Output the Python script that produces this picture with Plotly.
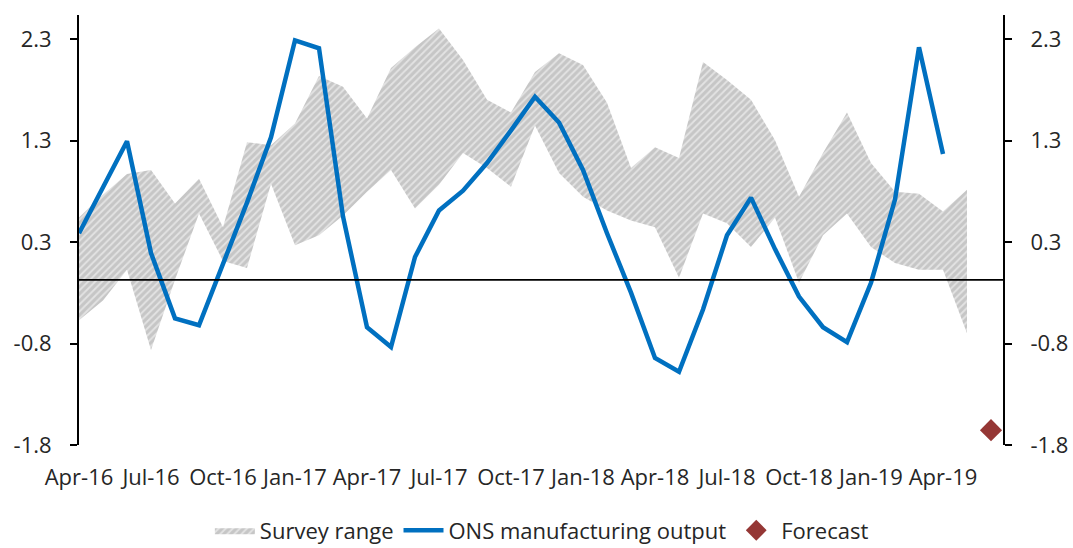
import plotly.graph_objects as go

# ---- data -------------------------------------------------------------
MONTHS = ["Apr-16", "May-16", "Jun-16", "Jul-16", "Aug-16", "Sep-16", "Oct-16", "Nov-16", "Dec-16",
          "Jan-17", "Feb-17", "Mar-17", "Apr-17", "May-17", "Jun-17", "Jul-17", "Aug-17", "Sep-17",
          "Oct-17", "Nov-17", "Dec-17", "Jan-18", "Feb-18", "Mar-18", "Apr-18", "May-18", "Jun-18",
          "Jul-18", "Aug-18", "Sep-18", "Oct-18", "Nov-18", "Dec-18", "Jan-19", "Feb-19", "Mar-19",
          "Apr-19", "May-19", "Jun-19"]

SURVEY_UPPER = [0.50, 0.73, 0.94, 0.98, 0.64, 0.89, 0.40, 1.26, 1.23, 1.45, 1.93, 1.82, 1.50,
                2.01, 2.22, 2.41, 2.09, 1.69, 1.56, 1.97, 2.16, 2.04, 1.66, 1.00, 1.21, 1.10,
                2.07, 1.89, 1.69, 1.28, 0.71, 1.15, 1.56, 1.05, 0.76, 0.74, 0.56, 0.78]
SURVEY_LOWER = [-0.54, -0.34, -0.03, -0.84, -0.13, 0.54, 0.06, -0.01, 0.84, 0.22, 0.32, 0.52,
                0.76, 0.98, 0.59, 0.83, 1.15, 1.00, 0.81, 1.43, 0.95, 0.71, 0.57, 0.47, 0.40,
                -0.11, 0.54, 0.44, 0.20, 0.50, -0.16, 0.32, 0.54, 0.20, 0.04, -0.03, -0.03, -0.67]

ONS_OUTPUT = [0.34, 0.80, 1.27, 0.14, -0.52, -0.59, 0.02, 0.65, 1.31, 2.29, 2.21, 0.51, -0.61,
              -0.81, 0.10, 0.57, 0.77, 1.05, 1.38, 1.72, 1.46, 0.98, 0.34, -0.26, -0.92, -1.06,
              -0.43, 0.32, 0.70, 0.18, -0.30, -0.61, -0.76, -0.16, 0.68, 2.22, 1.14]

FORECAST_MONTH = ["Jun-19"]
FORECAST_VALUE = [-1.65]

BASELINE = -0.13

Y_TICK_VALUES = [-1.8, -0.775, 0.25, 1.275, 2.3]
Y_TICK_LABELS = ["-1.8", "-0.8", "0.3", "1.3", "2.3"]
X_TICK_LABELS = MONTHS[0:37:3]

# ---- figure -----------------------------------------------------------
FONT = "Open Sans"
TXT = "#262626"

band_x = MONTHS[:len(SURVEY_UPPER)] + MONTHS[:len(SURVEY_LOWER)][::-1]
band_y = SURVEY_UPPER + SURVEY_LOWER[::-1]

fig = go.Figure()
fig.add_trace(go.Scatter(
    x=band_x, y=band_y, fill="toself", mode="lines",
    line=dict(width=0, color="#c8c8c8"),
    fillcolor="#c8c8c8",
    fillpattern=dict(shape="/", bgcolor="#c6c6c6", fgcolor="#ffffff", size=5, solidity=0.38),
    name="Survey range", hoverinfo="skip",
))
fig.add_trace(go.Scatter(
    x=MONTHS[:len(ONS_OUTPUT)], y=ONS_OUTPUT, mode="lines",
    line=dict(color="#0070C0", width=4.5),
    name="ONS manufacturing output",
))
fig.add_trace(go.Scatter(
    x=FORECAST_MONTH, y=FORECAST_VALUE, mode="markers",
    marker=dict(symbol="diamond", size=17, color="#953735"),
    name="Forecast", yaxis="y2",
))

fig.add_shape(type="line", xref="paper", x0=0, x1=1, yref="y", y0=BASELINE, y1=BASELINE,
              line=dict(color="black", width=1.75), layer="above")

yaxis_common = dict(
    range=[-1.8, 2.546], tickvals=Y_TICK_VALUES, ticktext=Y_TICK_LABELS,
    showgrid=False, zeroline=False, showline=True, linecolor="black", linewidth=2,
    ticks="outside", ticklen=7, tickwidth=2, tickcolor="black", automargin=False,
    tickfont=dict(family=FONT, size=22, color=TXT), ticklabelstandoff=14,
)

fig.update_layout(
    width=1073, height=548,
    margin=dict(l=79, r=70, t=15, b=103, autoexpand=False),
    paper_bgcolor="white", plot_bgcolor="white",
    font=dict(family=FONT, size=22, color=TXT),
    xaxis=dict(
        type="category", categoryorder="array", categoryarray=MONTHS,
        range=[0, 38.5], tickvals=X_TICK_LABELS, ticktext=X_TICK_LABELS,
        showgrid=False, zeroline=False, showline=False, ticks="", automargin=False,
        tickfont=dict(family=FONT, size=22, color=TXT), tickangle=0, ticklabelstandoff=17,
    ),
    yaxis=dict(side="left", **yaxis_common),
    yaxis2=dict(side="right", overlaying="y", **yaxis_common),
    legend=dict(orientation="h", x=0.505, xanchor="center", xref="container",
                y=0.032, yanchor="middle", yref="container",
                font=dict(family=FONT, size=22, color=TXT), itemwidth=40,
                bgcolor="rgba(0,0,0,0)"),
    showlegend=True,
)

fig.write_html("out.html",
               config={"displayModeBar": False},
               post_script="document.body.style.margin='0';document.body.style.padding='0';")
